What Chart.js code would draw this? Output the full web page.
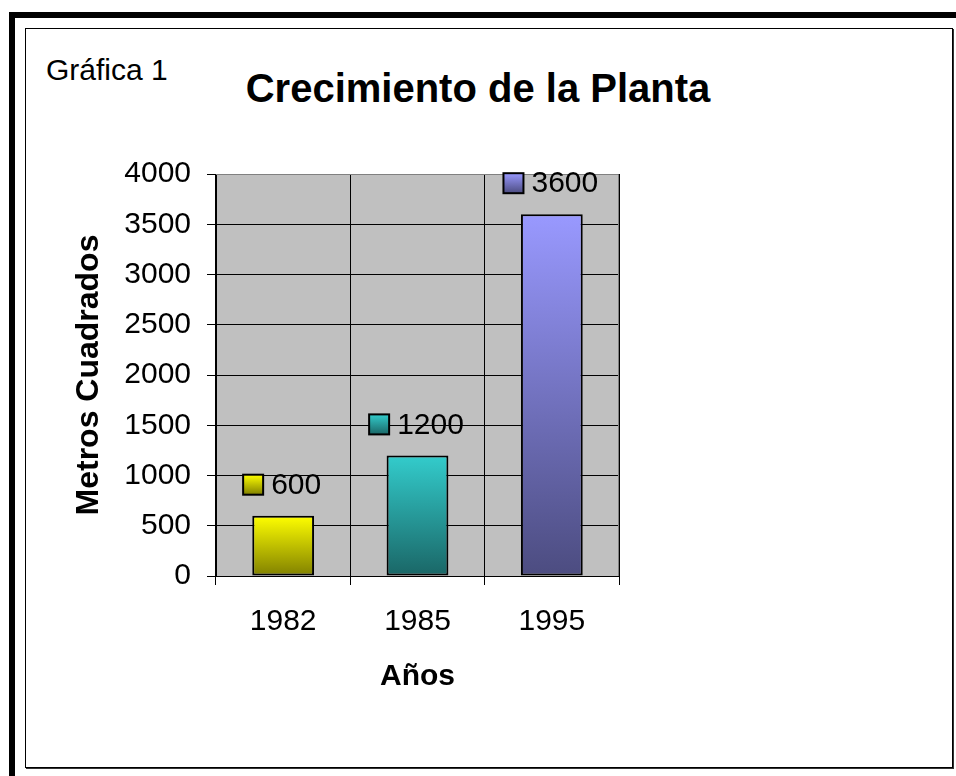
<!DOCTYPE html>
<html>
<head>
<meta charset="utf-8">
<script src="https://cdn.jsdelivr.net/npm/chart.js@4.4.1/dist/chart.umd.min.js"></script>
<style>
  html, body { margin: 0; padding: 0; background: #fff; }
  body { width: 956px; height: 776px; position: relative; overflow: hidden; font-family: "Liberation Sans", Arial, sans-serif; }
  .outer { position: absolute; left: 9px; top: 12px; width: 2000px; height: 2000px; border-left: 6px solid #000; border-top: 6px solid #000; }
  .inner { position: absolute; left: 25px; top: 28px; width: 926px; height: 738px; border: 1px solid #000; box-shadow: 1px 1px 0 #333; background: #fff; }
  .label { position: absolute; color: #000; white-space: nowrap; }
  #grafica { left: 46px; top: 52px; font-size: 30px; line-height: 35px; }
  #titulo { left: 478px; top: 65px; transform: translateX(-50%); font-size: 40px; line-height: 46px; font-weight: bold; }
  #wrap { position: absolute; left: 0; top: 0; width: 956px; height: 776px; }
</style>
</head>
<body>
<div class="outer"></div>
<div class="inner"></div>
<div class="label" id="grafica">Gráfica 1</div>
<div class="label" id="titulo">Crecimiento de la Planta</div>
<div id="wrap"><canvas id="chart" width="956" height="776"></canvas></div>
<script>
// data
const years = ['1982', '1985', '1995'];
const area = [600, 1200, 3600];
const topColors = ['#FFFF00', '#33CCCC', '#9999FF'];
const bottomColors = ['#808000', '#1A6666', '#4C4C80'];
const yTicks = [0, 500, 1000, 1500, 2000, 2500, 3000, 3500, 4000];

const FONT = "'Liberation Sans', Arial, sans-serif";

function barGradient(ctx, i, top, bottom) {
  const g = ctx.createLinearGradient(0, top, 0, bottom);
  g.addColorStop(0, topColors[i]);
  g.addColorStop(1, bottomColors[i]);
  return g;
}

// gray plot background + gray outline on top/right
const plotArea = {
  id: 'plotArea',
  beforeDraw(chart) {
    const { ctx, chartArea: a } = chart;
    ctx.save();
    ctx.fillStyle = '#C0C0C0';
    ctx.fillRect(a.left, a.top, a.right - a.left, a.bottom - a.top);
    ctx.restore();
  },
  beforeDatasetsDraw(chart) {
    const { ctx, chartArea: a } = chart;
    ctx.save();
    ctx.strokeStyle = '#808080';
    ctx.lineWidth = 1;
    ctx.beginPath();
    ctx.moveTo(a.left, a.top + 0.5);
    ctx.lineTo(a.right - 0.5, a.top + 0.5);
    ctx.lineTo(a.right - 0.5, a.bottom);
    ctx.stroke();
    ctx.restore();
  }
};

// value labels with legend key, centred above each bar
const valueLabels = {
  id: 'valueLabels',
  afterDatasetsDraw(chart) {
    const { ctx } = chart;
    const meta = chart.getDatasetMeta(0);
    ctx.save();
    ctx.font = '30px ' + FONT;
    ctx.textBaseline = 'middle';
    ctx.textAlign = 'left';
    meta.data.forEach((bar, i) => {
      const text = String(area[i]);
      const tw = ctx.measureText(text).width;
      const box = 20, gap = 8;
      const total = box + gap + tw;
      const x0 = bar.x - total / 2 - 1;
      const cy = bar.y - 31;
      ctx.fillStyle = barGradient(ctx, i, cy - box / 2, cy + box / 2);
      ctx.fillRect(x0, cy - box / 2, box, box);
      ctx.strokeStyle = '#000';
      ctx.lineWidth = 2;
      ctx.strokeRect(x0, cy - box / 2, box, box);
      ctx.fillStyle = '#000';
      ctx.fillText(text, x0 + box + gap, cy + 1);
    });
    ctx.restore();
  }
};

new Chart(document.getElementById('chart'), {
  type: 'bar',
  data: {
    labels: years,
    datasets: [{
      data: area,
      backgroundColor: (c) => {
        const chart = c.chart;
        if (!chart.chartArea || c.dataIndex === undefined) return topColors[0];
        const y = chart.scales.y;
        return barGradient(chart.ctx, c.dataIndex, y.getPixelForValue(area[c.dataIndex]), y.getPixelForValue(0));
      },
      borderColor: '#000',
      borderWidth: 2,
      borderSkipped: false,
      categoryPercentage: 1,
      barPercentage: 0.46
    }]
  },
  options: {
    responsive: false,
    animation: false,
    devicePixelRatio: 1,
    layout: { padding: { left: 70, top: 174, right: 337, bottom: 81 } },
    plugins: {
      legend: { display: false },
      tooltip: { enabled: false }
    },
    scales: {
      x: {
        grid: { color: '#000', lineWidth: 1, tickLength: 9, offset: true },
        border: { color: '#000', width: 1 },
        ticks: { color: '#000', font: { family: FONT, size: 30 }, padding: 19 },
        title: { display: true, text: 'Años', color: '#000', font: { family: FONT, size: 30, weight: 'bold' }, padding: 0 },
        afterFit(s) { s.height = 119; }
      },
      y: {
        min: 0,
        max: 4000,
        afterBuildTicks(s) { s.ticks = yTicks.map(v => ({ value: v })); },
        grid: { color: '#000', lineWidth: 1, tickLength: 9 },
        border: { color: '#000', width: 1 },
        ticks: { color: '#000', font: { family: FONT, size: 30 }, padding: 16, callback: (v) => String(v) },
        title: { display: true, text: 'Metros Cuadrados', color: '#000', font: { family: FONT, size: 32, weight: 'bold' }, padding: 0 },
        afterFit(s) { s.width = 146; }
      }
    }
  },
  plugins: [plotArea, valueLabels]
});
</script>
</body>
</html>
